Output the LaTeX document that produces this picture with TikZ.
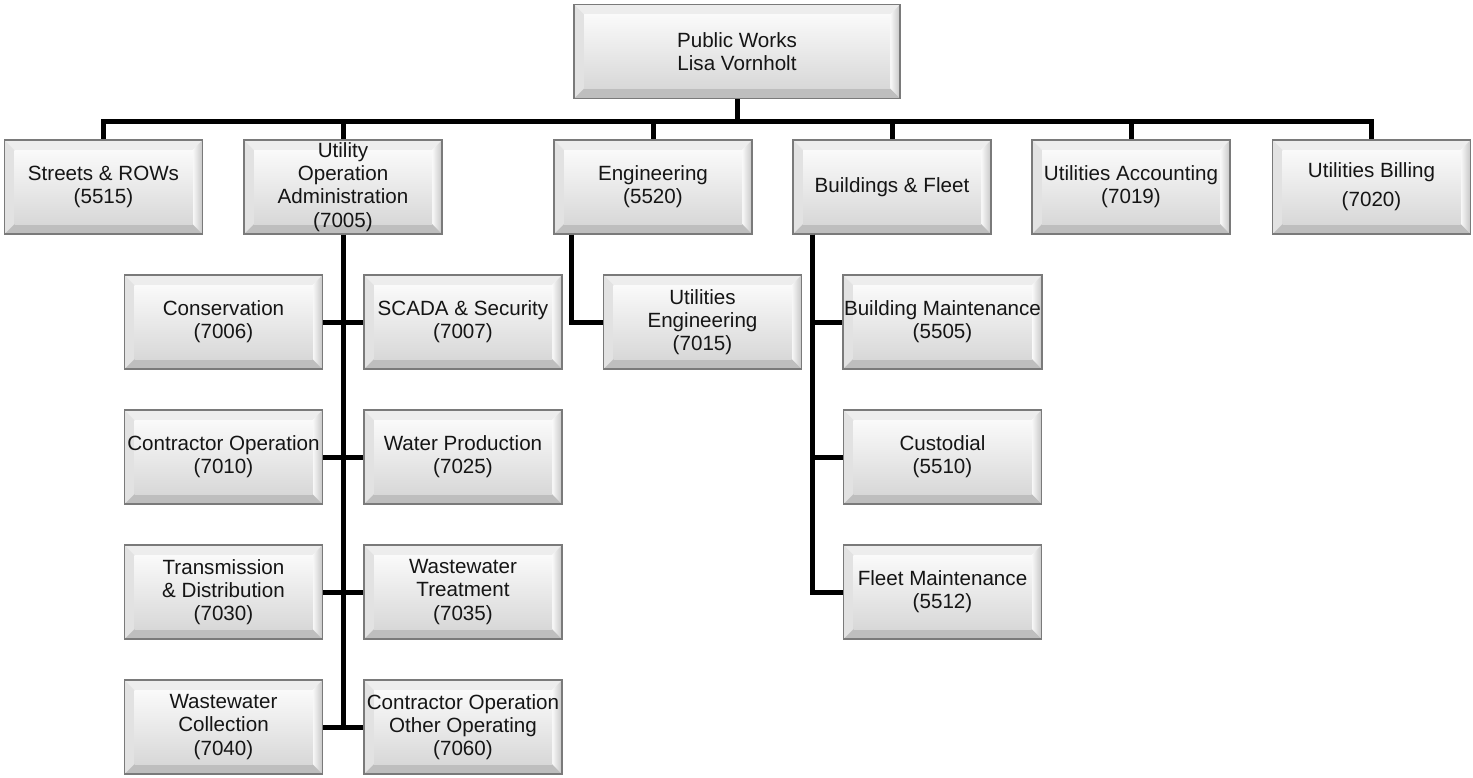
\documentclass[tikz,border=0pt]{standalone}
\usepackage{fontspec}
\setmainfont{Liberation Sans}
\usepackage{tikz}
\usetikzlibrary{calc,positioning}
\definecolor{OrgInk}{HTML}{151515}
\definecolor{OrgEdge}{HTML}{7A7A7A}
\definecolor{OrgFaceTop}{HTML}{FAFAFA}
\definecolor{OrgFaceLow}{HTML}{D8D8D8}
\definecolor{OrgBevTop}{HTML}{EDEDED}
\definecolor{OrgBevLeft}{HTML}{E2E2E2}
\definecolor{OrgBevRight}{HTML}{C6C6C6}
\definecolor{OrgBevLow}{HTML}{BEBEBE}
\newcommand{\OrgText}{\fontsize{10.3}{11.6}\selectfont}
\tikzset{
  bevelbox/.style={
    rectangle,
    draw=OrgEdge,
    line width=0.6pt,
    minimum width=99pt,
    minimum height=47pt,
    inner sep=0.5pt,
    align=center,
    text=OrgInk,
    font=\OrgText,
    path picture={
      \coordinate (bNW) at (path picture bounding box.north west);
      \coordinate (bNE) at (path picture bounding box.north east);
      \coordinate (bSW) at (path picture bounding box.south west);
      \coordinate (bSE) at (path picture bounding box.south east);
      \fill[OrgBevTop] (bNW) -- (bNE) -- ($(bNE)+(-5pt,-5pt)$) -- ($(bNW)+(5pt,-5pt)$) -- cycle;
      \fill[OrgBevLeft] (bNW) -- ($(bNW)+(5pt,-5pt)$) -- ($(bSW)+(5pt,5pt)$) -- (bSW) -- cycle;
      \shade[left color=OrgFaceTop, right color=OrgBevRight] (bNE) -- (bSE) -- ($(bSE)+(-5pt,5pt)$) -- ($(bNE)+(-5pt,-5pt)$) -- cycle;
      \fill[OrgBevLow] (bSW) -- (bSE) -- ($(bSE)+(-5pt,5pt)$) -- ($(bSW)+(5pt,5pt)$) -- cycle;
      \shade[top color=OrgFaceTop, bottom color=OrgFaceLow] ($(bNW)+(5pt,-5pt)$) rectangle ($(bSE)+(-5pt,5pt)$);
    }
  },
  orgline/.style={
    draw=black,
    line width=2.5pt,
    line join=miter
  }
}

\begin{document}
\begin{tikzpicture}[x=0.5pt,y=-0.5pt]
\path[use as bounding box] (0,0) rectangle (1473,777);

% head
\node[bevelbox, minimum width=163pt] (pw) at (737,51.5) {Public Works\\Lisa Vornholt};

% first level
\node[bevelbox] (streets) at (103.5,187) {Streets \& ROWs\\(5515)};
\node[bevelbox] (utilop) at (343,187) {Utility\\Operation\\Administration\\(7005)};
\node[bevelbox] (eng) at (653,187) {Engineering\\(5520)};
\node[bevelbox] (bldg) at (892,187) {Buildings \& Fleet};
\node[bevelbox] (acct) at (1131,187) {Utilities Accounting\\(7019)};
\node[bevelbox] (bill) at (1371.5,187) {Utilities Billing\\[3pt](7020)};

\foreach \dept in {streets,utilop,eng,bldg,acct,bill}
  \draw[orgline] (pw.south) -- ++(0,22) -| (\dept.north);

% utility operation units
\node[bevelbox] (cons) at (223.5,322) {Conservation\\(7006)};
\node[bevelbox] (scada) at (463,322) {SCADA \& Security\\(7007)};
\node[bevelbox] (contr) at (223.5,457) {Contractor Operation\\(7010)};
\node[bevelbox] (water) at (463,457) {Water Production\\(7025)};
\node[bevelbox] (trans) at (223.5,592) {Transmission\\\& Distribution\\(7030)};
\node[bevelbox] (wwtreat) at (463,592) {Wastewater\\Treatment\\(7035)};
\node[bevelbox] (wwcoll) at (223.5,727) {Wastewater\\Collection\\(7040)};
\node[bevelbox] (controther) at (463,727) {Contractor Operation\\Other Operating\\(7060)};

\draw[orgline] (utilop.south) -- (utilop.south |- wwcoll.east);
\draw[orgline] (cons.east) -- (scada.west);
\draw[orgline] (contr.east) -- (water.west);
\draw[orgline] (trans.east) -- (wwtreat.west);
\draw[orgline] (wwcoll.east) -- (controther.west);

% engineering unit
\node[bevelbox] (utileng) at (702.5,322) {Utilities\\Engineering\\(7015)};
\draw[orgline] ([xshift=9pt]eng.south west) |- (utileng.west);

% buildings units
\node[bevelbox] (bmaint) at (942.5,322) {Building Maintenance\\(5505)};
\node[bevelbox] (custod) at (942.5,457) {Custodial\\(5510)};
\node[bevelbox] (fleet) at (942.5,592) {Fleet Maintenance\\(5512)};

\foreach \unit in {bmaint,custod,fleet}
  \draw[orgline] ([xshift=10pt]bldg.south west) |- (\unit.west);

\end{tikzpicture}
\end{document}
